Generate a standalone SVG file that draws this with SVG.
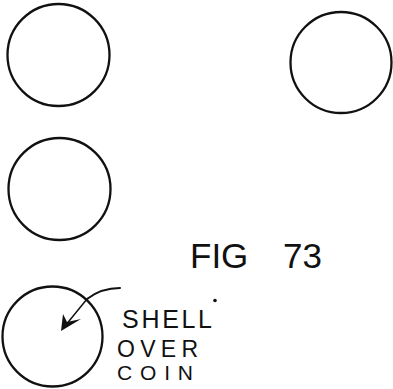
<svg xmlns="http://www.w3.org/2000/svg" width="393" height="389" viewBox="0 0 393 389">
<style>
.coin{fill:none;stroke:#111;stroke-width:2.3}
.lbl{font-family:"Liberation Sans","DejaVu Sans",sans-serif;fill:#111}
.conn{fill:none;stroke:#111;stroke-linecap:round}
</style>
<rect width="393" height="389" fill="#fff"/>
<g id="coin1"><circle class="coin" cx="58.5" cy="55" r="51"/></g>
<g id="coin2"><circle class="coin" cx="341" cy="62.5" r="50.5"/></g>
<g id="coin3"><circle class="coin" cx="59.5" cy="189" r="51"/></g>
<g id="coin4"><circle class="coin" cx="52.5" cy="336.5" r="50"/></g>
<g id="title"><text class="lbl" font-size="35" y="268"><tspan x="190">FIG</tspan> <tspan x="283">73</tspan></text></g>
<g id="label">
<text class="lbl" font-size="25" x="122" y="328" textLength="90" lengthAdjust="spacing">SHELL</text>
<circle cx="215" cy="300.5" r="1.8" fill="#111"/>
<text class="lbl" font-size="23" x="117" y="357" textLength="81" lengthAdjust="spacing">OVER</text>
<text class="lbl" font-size="21" x="117" y="380" textLength="76" lengthAdjust="spacing">COIN</text>
</g>
<g id="connectors">
<path class="conn" stroke-width="2" d="M120,288 C108,288 96,292 87,299"/>
<path class="conn" stroke-width="1.5" d="M87,299 L65,326"/>
<polygon fill="#111" points="61,331 63,314 67,322 81,319"/>
</g>
</svg>
